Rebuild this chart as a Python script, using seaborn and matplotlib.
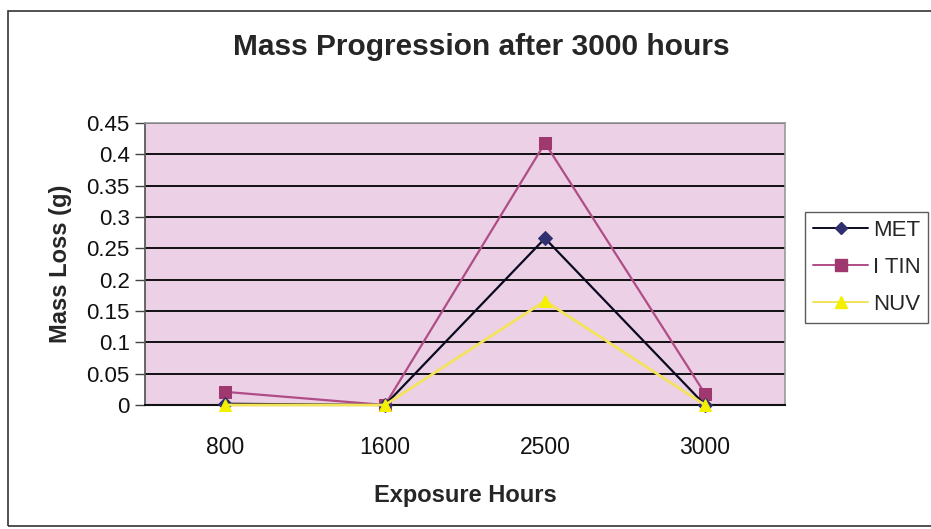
import matplotlib
matplotlib.use("Agg")
import matplotlib.pyplot as plt
import seaborn as sns
import numpy as np
import pandas as pd
from matplotlib.patches import Rectangle
from matplotlib.lines import Line2D

categories = ["800", "1600", "2500", "3000"]
met = [0.002, 0.0, 0.266, 0.0]
itin = [0.021, 0.0, 0.418, 0.018]
nuv = [0.0, 0.0, 0.166, 0.0]
series_names = ["MET", "I TIN", "NUV"]
yticks = [0, 0.05, 0.1, 0.15, 0.2, 0.25, 0.3, 0.35, 0.4, 0.45]
ytick_labels = ["0", "0.05", "0.1", "0.15", "0.2", "0.25", "0.3", "0.35", "0.4", "0.45"]

sns.set_theme(style="white")
plt.rcParams["font.family"] = ["Liberation Sans", "DejaVu Sans"]

W, H = 931, 529
fig = plt.figure(figsize=(W / 100, H / 100), dpi=100)
ax = fig.add_axes([145 / W, 1 - 405 / H, 640 / W, 282 / H])
ax.set_facecolor("#ecd0e6")

styles = {
    "MET": dict(color="#0a0a20", marker="D", mfc="#303070", mec="#303070", ms=7),
    "I TIN": dict(color="#b04c86", marker="s", mfc="#a03870", mec="#a03870", ms=9),
    "NUV": dict(color="#f2e35a", marker="^", mfc="#f5f000", mec="#f5f000", ms=9),
}
df = pd.DataFrame({"Exposure": categories * 3,
                   "Loss": met + itin + nuv,
                   "Series": sum([[s] * len(categories) for s in series_names], [])})

for name in ["I TIN", "MET", "NUV"]:
    st = styles[name]
    sub = df[df["Series"] == name]
    sns.lineplot(data=sub, x="Exposure", y="Loss", ax=ax, color=st["color"],
                 marker=st["marker"], markerfacecolor=st["mfc"],
                 markeredgecolor=st["mec"], markersize=st["ms"],
                 linewidth=2.0 if name == "NUV" else 1.6, label=name, legend=False,
                 clip_on=False, zorder=3)

ax.set_xlim(-0.5, len(categories) - 0.5)
ax.set_ylim(0, 0.45)
ax.set_yticks(yticks)
ax.set_yticklabels(ytick_labels)
ax.yaxis.grid(True, color="black", linewidth=1.3)
ax.set_axisbelow(True)
ax.set_xticks(range(len(categories)))
ax.set_xticklabels(categories)
ax.set_xticks(np.arange(-0.5, len(categories), 1.0), minor=True)
ax.tick_params(axis="x", which="major", length=0, pad=22, labelsize=16.5, colors="#111111")
ax.tick_params(axis="x", which="minor", length=9, width=1, color="#444444", direction="out")
ax.tick_params(axis="y", length=7, width=1, color="#444444", direction="out", pad=4,
               labelsize=16, colors="#111111", left=True)
ax.tick_params(axis="y", colors="#444444", labelcolor="#111111")
for sp in ["top", "right"]:
    ax.spines[sp].set_color("#999999")
    ax.spines[sp].set_linewidth(1.2)
ax.spines["left"].set_color("#555555")
ax.spines["bottom"].set_color("#111111")
ax.spines["bottom"].set_linewidth(1.5)

ax.set_xlabel("Exposure Hours", fontsize=17, fontweight="bold", labelpad=18)
ax.set_ylabel("Mass Loss (g)", fontsize=17, fontweight="bold", labelpad=10)
fig.text(481 / W, 1 - 47 / H, "Mass Progression after 3000 hours", fontsize=21.5,
         fontweight="bold", ha="center", va="center")

handles = []
for name in series_names:
    st = styles[name]
    handles.append(Line2D([], [], color=st["color"], marker=st["marker"],
                          markerfacecolor=st["mfc"], markeredgecolor=st["mec"],
                          markersize=st["ms"] - 1, linewidth=1.4))
leg = fig.legend(handles, series_names, loc="upper left",
                 bbox_to_anchor=(805 / W, 1 - 212 / H), fontsize=16,
                 frameon=True, fancybox=False, edgecolor="#333333",
                 handlelength=2.5, handletextpad=0.2, borderpad=0.35,
                 labelspacing=0.72, borderaxespad=0)
leg.get_frame().set_linewidth(1.0)

fig.patches.append(Rectangle((8 / W, 1 - 526 / H), (W + 5 - 8) / W, (526 - 11) / H,
                             transform=fig.transFigure, fill=False,
                             edgecolor="#333333", linewidth=1.2, clip_on=False))

fig.savefig("out.png", dpi=100, facecolor="white")
